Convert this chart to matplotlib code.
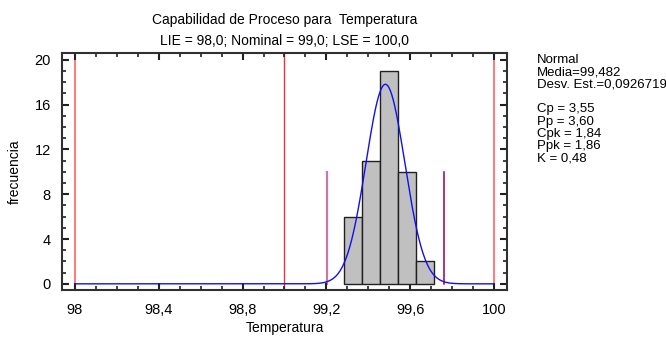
import numpy as np
import matplotlib.pyplot as plt
from matplotlib.ticker import MultipleLocator, FuncFormatter
from matplotlib import font_manager

# data
bin_left = [99.286, 99.372, 99.458, 99.544, 99.630]
bin_width = 0.0862
counts = [6, 11, 19, 10, 2]
lie, nominal, lse = 98.0, 99.0, 100.0
mean, sd = 99.482, 0.0926719
lower_3s, upper_3s = 99.204, 99.760
stats_text = ["Normal", "Media=99,482", "Desv. Est.=0,0926719", "",
              "Cp = 3,55", "Pp = 3,60", "Cpk = 1,84", "Ppk = 1,86", "K = 0,48"]


def main():
    names = {f.name for f in font_manager.fontManager.ttflist}
    fam = "Liberation Sans Narrow" if "Liberation Sans Narrow" in names else "Liberation Sans"
    plt.rcParams["font.family"] = [fam, "DejaVu Sans"]

    fig = plt.figure(figsize=(6.66, 3.38), dpi=100)
    ax = fig.add_axes([0.0931, 0.142, 0.668, 0.701])

    ax.bar(bin_left, counts, width=bin_width, align="edge",
           color="#c0c0c0", edgecolor="#202020", linewidth=1.0, zorder=2)

    x = np.linspace(lie, lse, 600)
    scale = sum(counts) * bin_width
    y = scale / (sd * np.sqrt(2 * np.pi)) * np.exp(-0.5 * ((x - mean) / sd) ** 2)
    ax.plot(x, y, color="#1010ee", linewidth=1.0, zorder=3)

    ax.axvline(lie, color="#ff6e6e", linewidth=1.3, zorder=1)
    ax.axvline(lse, color="#ff6e6e", linewidth=1.3, zorder=1)
    ax.axvline(nominal, color="#e8343f", linewidth=1.0, zorder=1)
    ax.plot([lower_3s, lower_3s], [0, 10], color="#c878a8", linewidth=1.6, zorder=1)
    ax.plot([upper_3s, upper_3s], [0, 10], color="#990055", linewidth=1.1, zorder=1)

    ax.set_xlim(97.938, 100.062)
    ax.set_ylim(-0.55, 20.6)

    ax.xaxis.set_major_locator(MultipleLocator(0.4))
    ax.xaxis.set_minor_locator(MultipleLocator(0.1))
    ax.yaxis.set_major_locator(MultipleLocator(4))
    ax.yaxis.set_minor_locator(MultipleLocator(1))
    fmt = FuncFormatter(lambda v, p: ("%g" % round(v, 2)).replace(".", ","))
    ax.xaxis.set_major_formatter(fmt)
    ax.tick_params(which="both", direction="in", top=True, right=True,
                   labelsize=10.5, color="#202020")
    ax.tick_params(which="major", length=5, width=1.5)
    ax.tick_params(axis="x", which="major", pad=9)
    ax.tick_params(axis="y", which="major", pad=8)
    ax.tick_params(which="minor", length=3, width=1.2)
    for s in ax.spines.values():
        s.set_linewidth(1.5)
        s.set_color("#303030")

    ax.set_xlabel("Temperatura", fontsize=10, labelpad=3)
    ax.set_ylabel("frecuencia", fontsize=10, labelpad=9)
    ax.set_title("Capabilidad de Proceso para  Temperatura\nLIE = 98,0; Nominal = 99,0; LSE = 100,0",
                 fontsize=10, linespacing=1.6, pad=6)

    for i, line in enumerate(stats_text):
        fig.text(537 / 666, 1 - (60 + i * 12.3) / 338, line, fontsize=9.5, va="center", ha="left")

    fig.savefig("out.png", dpi=100)


if __name__ == "__main__":
    main()
